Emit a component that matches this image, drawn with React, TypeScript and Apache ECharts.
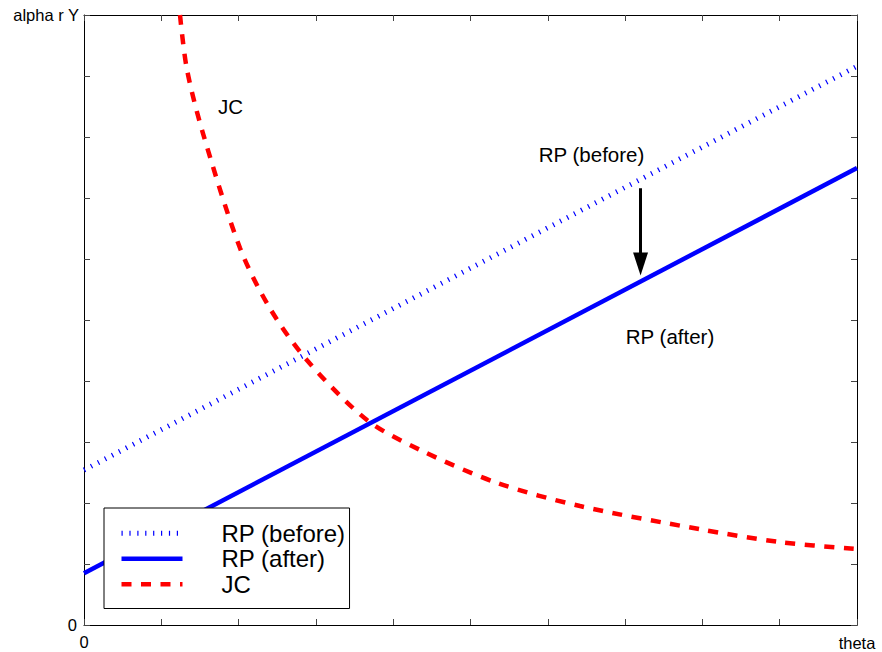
import React, { useEffect, useRef } from "react";
import * as echarts from "echarts";

// Axis settings (data space)
const X_MIN = 0;
const X_MAX = 10;
const Y_MIN = 0;
const Y_MAX = 10;
const TICK_STEP = 1;
const shownTickLabels = ["0"];
const xAxisName = "theta";
const yAxisName = "alpha r Y";

// Series names
const seriesNames = ["RP (before)", "RP (after)", "JC"];

// RP lines (straight lines between endpoints)
const rpX = [0, 10];
const rpBeforeY = [2.54, 9.16];
const rpAfterY = [0.85, 7.49];

// JC curve
const jcX = [1.242, 1.33, 1.539, 2.018, 2.406, 2.885, 3.661, 4.347, 5.343, 6.417, 7.969, 9.004, 10];
const jcY = [10.0, 9.12, 8.06, 6.18, 5.19, 4.34, 3.36, 2.87, 2.33, 1.95, 1.57, 1.36, 1.245];

// Arrow from RP (before) down to RP (after)
const arrowX = [7.2, 7.2];
const arrowY = [7.16, 5.92];

// Annotation texts
const annotations = ["RP (before)", "JC", "RP (after)"];

const FONT = "'Liberation Sans', Arial, Helvetica, sans-serif";

export default function App() {
  const ref = useRef<HTMLDivElement>(null);

  useEffect(() => {
    if (!ref.current) return;
    const chart = echarts.init(ref.current, undefined, { renderer: "svg" });

    const toPairs = (xs: number[], ys: number[]) => xs.map((x, i) => [x, ys[i]]);

    const baseAxis = {
      type: "value" as const,
      interval: TICK_STEP,
      splitLine: { show: false },
      axisLine: { show: true, onZero: false, lineStyle: { color: "#000", width: 1 } },
      axisTick: { show: true, inside: true, length: 6, lineStyle: { color: "#444", width: 1 } },
    };

    const labelFmt = (v: number) => {
      const s = String(v);
      return shownTickLabels.includes(s) ? s : "";
    };

    const dotted = { color: "#0000ff", width: 5, type: [1.2, 6.7], cap: "butt" };
    const solid = { color: "#0000ff", width: 4.5, type: "solid" };
    const dashed = { color: "#ff0000", width: 4.5, type: [10, 9.5], cap: "butt" };

    chart.setOption({
      animation: false,
      backgroundColor: "#fff",
      textStyle: { fontFamily: FONT },
      grid: { left: 84, top: 15, right: 25, bottom: 27, containLabel: false },
      xAxis: [
        {
          ...baseAxis,
          position: "bottom",
          min: X_MIN,
          max: X_MAX,
          name: xAxisName,
          nameLocation: "end",
          nameGap: 0,
          nameTextStyle: {
            fontFamily: FONT,
            fontSize: 16.5,
            color: "#000",
            align: "center",
            verticalAlign: "top",
            padding: [9, 0, 0, 0],
          },
          axisLabel: {
            show: true,
            formatter: labelFmt,
            fontFamily: FONT,
            fontSize: 16.5,
            color: "#000",
            margin: 8,
          },
        },
        {
          ...baseAxis,
          position: "top",
          min: X_MIN,
          max: X_MAX,
          axisLabel: { show: false },
        },
      ],
      yAxis: [
        {
          ...baseAxis,
          position: "left",
          min: Y_MIN,
          max: Y_MAX,
          name: yAxisName,
          nameLocation: "end",
          nameGap: 0,
          nameTextStyle: {
            fontFamily: FONT,
            fontSize: 16.5,
            color: "#000",
            align: "right",
            verticalAlign: "middle",
            padding: [0, 5, 0, 0],
          },
          axisLabel: {
            show: true,
            formatter: labelFmt,
            fontFamily: FONT,
            fontSize: 16.5,
            color: "#000",
            margin: 7,
            verticalAlign: "middle",
          },
        },
        {
          ...baseAxis,
          position: "right",
          min: Y_MIN,
          max: Y_MAX,
          axisLabel: { show: false },
        },
      ],
      legend: {
        show: true,
        orient: "vertical",
        left: 104,
        top: 508,
        padding: [12.5, 4, 11.5, 15],
        itemGap: 0,
        itemWidth: 61,
        itemHeight: 14,
        backgroundColor: "#fff",
        borderColor: "#000",
        borderWidth: 1,
        borderRadius: 0,
        selectedMode: false,
        itemStyle: { opacity: 0 },
        data: [
          { name: seriesNames[0], lineStyle: { width: dotted.width, type: dotted.type } },
          { name: seriesNames[1], lineStyle: { width: solid.width } },
          { name: seriesNames[2], lineStyle: { width: dashed.width, type: dashed.type } },
        ],
        textStyle: {
          fontFamily: FONT,
          fontSize: 24,
          lineHeight: 25.5,
          color: "#000",
          padding: [0, 0, 0, 34],
        },
      },
      series: [
        {
          name: seriesNames[0],
          type: "line",
          data: toPairs(rpX, rpBeforeY),
          symbol: "none",
          z: 2,
          lineStyle: dotted,
          itemStyle: { color: "#0000ff" },
        },
        {
          name: seriesNames[1],
          type: "line",
          data: toPairs(rpX, rpAfterY),
          symbol: "none",
          z: 3,
          lineStyle: solid,
          itemStyle: { color: "#0000ff" },
          markLine: {
            silent: true,
            animation: false,
            symbol: ["none", "triangle"],
            symbolSize: [15, 23],
            label: { show: false },
            lineStyle: { color: "#000", width: 3, type: "solid" },
            emphasis: { disabled: true },
            data: [
              [
                { coord: [arrowX[0], arrowY[0]] },
                { coord: [arrowX[1], arrowY[1]] },
              ],
            ],
          },
        },
        {
          name: seriesNames[2],
          type: "line",
          data: toPairs(jcX, jcY),
          symbol: "none",
          smooth: 0.3,
          z: 4,
          lineStyle: dashed,
          itemStyle: { color: "#ff0000" },
        },
      ],
      graphic: [
        {
          type: "text",
          x: 591.5,
          y: 154.5,
          style: {
            text: annotations[0],
            font: `20.5px ${FONT}`,
            fill: "#000",
            align: "center",
            verticalAlign: "middle",
          },
        },
        {
          type: "text",
          x: 230.5,
          y: 106.5,
          style: {
            text: annotations[1],
            font: `20.5px ${FONT}`,
            fill: "#000",
            align: "center",
            verticalAlign: "middle",
          },
        },
        {
          type: "text",
          x: 670,
          y: 336.5,
          style: {
            text: annotations[2],
            font: `20.5px ${FONT}`,
            fill: "#000",
            align: "center",
            verticalAlign: "middle",
          },
        },
      ],
    });

    return () => chart.dispose();
  }, []);

  return (
    <div
      ref={ref}
      style={{ position: "fixed", left: 0, top: 0, width: 882, height: 652 }}
    />
  );
}
